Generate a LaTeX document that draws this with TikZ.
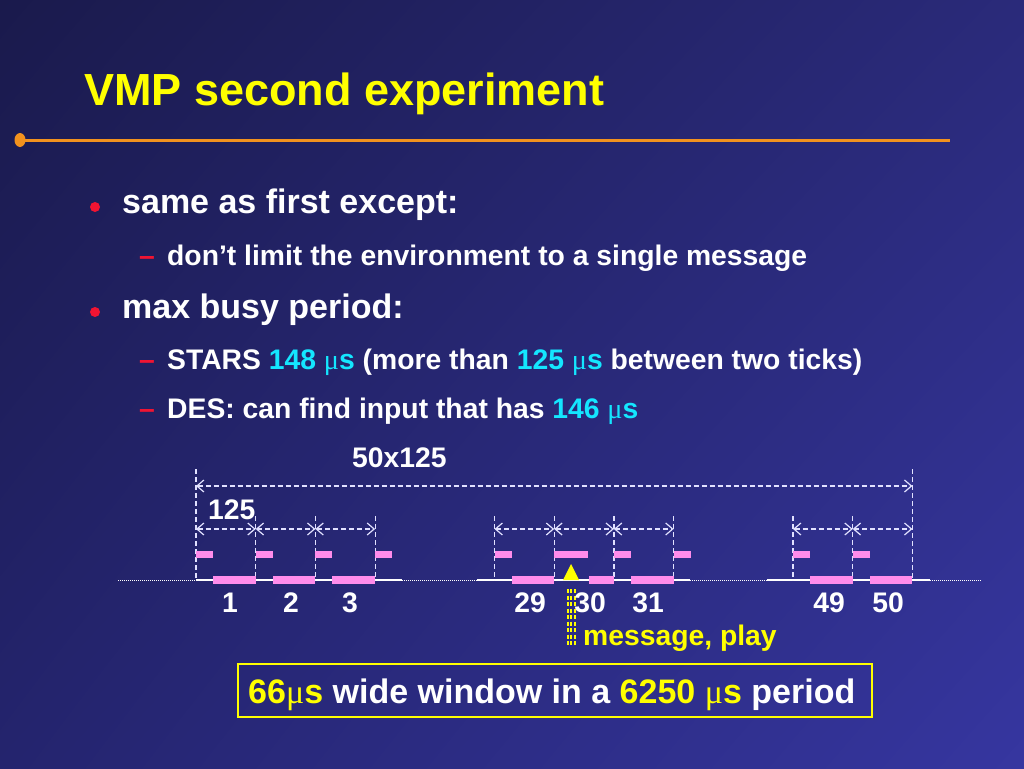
\documentclass[tikz,border=0pt]{standalone}
\usepackage{fontspec}
\setmainfont{Liberation Sans}
\newfontfamily\symf{Liberation Serif}
\usetikzlibrary{arrows.meta,shadings}
\definecolor{bgA}{RGB}{26,26,76}
\definecolor{bgB}{RGB}{42,42,122}
\definecolor{bgC}{RGB}{36,36,110}
\definecolor{bgD}{RGB}{54,54,160}
\definecolor{titleY}{RGB}{255,255,0}
\definecolor{orangeC}{RGB}{242,146,30}
\definecolor{redC}{RGB}{240,20,50}
\definecolor{cyanC}{RGB}{20,230,255}
\definecolor{pinkC}{RGB}{255,140,235}
\definecolor{dimC}{RGB}{225,225,255}
\newcommand{\mus}{{\symf\mdseries μ}s}
\begin{document}
\begin{tikzpicture}[x=1pt,y=-1pt,
  txt/.style={text=white, inner sep=0, anchor=base west},
  big/.style={font=\fontsize{34}{38}\selectfont\bfseries},
  mid/.style={font=\fontsize{28.3}{32}\selectfont\bfseries},
  dimline/.style={draw=dimC, line width=1.2pt, dash pattern=on 5pt off 3pt},
  dimarr/.style={dimline, {Straight Barb[length=7pt,width=12pt]}-{Straight Barb[length=7pt,width=12pt]}},
  pinkbar/.style={fill=pinkC, draw=none},
  axisdot/.style={draw=white, line width=0.9pt, dash pattern=on 1pt off 1pt},
  axissolid/.style={draw=white, line width=1.5pt},
  lbl/.style={text=white, inner sep=0, anchor=base, font=\fontsize{28.3}{32}\selectfont\bfseries}]
\useasboundingbox (0,0) rectangle (1024,768);
\shade[upper left=bgA, upper right=bgB, lower left=bgC, lower right=bgD] (0,0) rectangle (1024,768);

% title
\node[txt, text=titleY, font=\fontsize{45}{50}\selectfont\bfseries] (title) at (84,105) {VMP second experiment};
\draw[orangeC, line width=3pt] (20,140) -- (950,140);
\fill[orangeC] (20,140) ellipse (5.5 and 7);

% bullets
\fill[redC] (95,207) circle (5);
\node[txt, big] (b1) at (122,213) {same as first except:};
\node[txt, mid, text=redC] (d1) at (139,265) {–};
\node[txt, mid] (s1) at (167,265) {don’t limit the environment to a single message};
\fill[redC] (95,312) circle (5);
\node[txt, big] (b2) at (122,318) {max busy period:};
\node[txt, mid, text=redC] (d2) at (139,369) {–};
\node[txt, mid] (s2) at (167,369) {STARS \textcolor{cyanC}{148 \mus} (more than \textcolor{cyanC}{125 \mus} between two ticks)};
\node[txt, mid, text=redC] (d3) at (139,418) {–};
\node[txt, mid] (s3) at (167,418) {DES: can find input that has \textcolor{cyanC}{146 \mus}};

% axis
\draw[axisdot] (118,580) -- (196,580);
\draw[axissolid] (196,580) -- (402,580);
\draw[axisdot] (402,580) -- (477,580);
\draw[axissolid] (477,580) -- (690,580);
\draw[axisdot] (690,580) -- (767,580);
\draw[axissolid] (767,580) -- (930,580);
\draw[axisdot] (930,580) -- (982,580);

% ticks
\foreach \k in {0,1,2,3,5,6,7,8,10,11,12}{
  \coordinate (b\k) at ({196+59.7*\k},580);
  \coordinate (a\k) at ({196+59.7*\k},529);
}
\coordinate (top0) at (196,469);
\coordinate (top12) at ({196+59.7*12},469);
\coordinate (L0) at (196,486);
\coordinate (L12) at ({196+59.7*12},486);
\draw[dimline] (top0) -- (b0);
\draw[dimline] (top12) -- (b12);
\foreach \k in {1,2,3,5,6,7,8,10,11}{
  \draw[dimline] ([yshift=13pt]a\k) -- (b\k);
}
\draw[dimarr] (L0) -- (L12);
\foreach \i/\j in {0/1,1/2,2/3,5/6,6/7,7/8,10/11,11/12}{
  \draw[dimarr] (a\i) -- (a\j);
}

% upper pink bars
\foreach \k in {0,1,2,3,5,7,8,10,11}{
  \fill[pinkbar] ({196+59.7*\k},551) rectangle ({213+59.7*\k},558);
}
\fill[pinkbar] ({196+59.7*6},551) rectangle (588,558);
% lower pink bars
\foreach \k in {0,1,2,5,7,10,11}{
  \fill[pinkbar] ({213+59.7*\k},576) rectangle ({196+59.7*(\k+1)},584);
}
\fill[pinkbar] (589,576) rectangle ({196+59.7*7},584);

% message marker
\fill[titleY] (563,580) -- (579,580) -- (571,564) -- cycle;
\foreach \xx in {568,571.3,574.6}{
  \draw[titleY, line width=2pt, dash pattern=on 4pt off 2.5pt] (\xx,589) -- (\xx,647);
}

% labels
\node[txt, mid] (l50) at (352,467) {50x125};
\node[txt, mid] (l125) at (208,519) {125};
\node[lbl] (n1) at (230,612) {1};
\node[lbl] (n2) at (291,612) {2};
\node[lbl] (n3) at (350,612) {3};
\node[lbl] (n29) at (530,612) {29};
\node[lbl] (n30) at (590,612) {30};
\node[lbl] (n31) at (648,612) {31};
\node[lbl] (n49) at (829,612) {49};
\node[lbl] (n50) at (888,612) {50};
\node[txt, mid, text=titleY] (msg) at (583,645) {message, play};

% box
\draw[titleY, line width=1.2pt] (238,664) rectangle (872,717);
\node[txt, big] (boxt) at (248,703) {\textcolor{titleY}{66\mus} wide window in a \textcolor{titleY}{6250 \mus} period};
\end{tikzpicture}
\end{document}
